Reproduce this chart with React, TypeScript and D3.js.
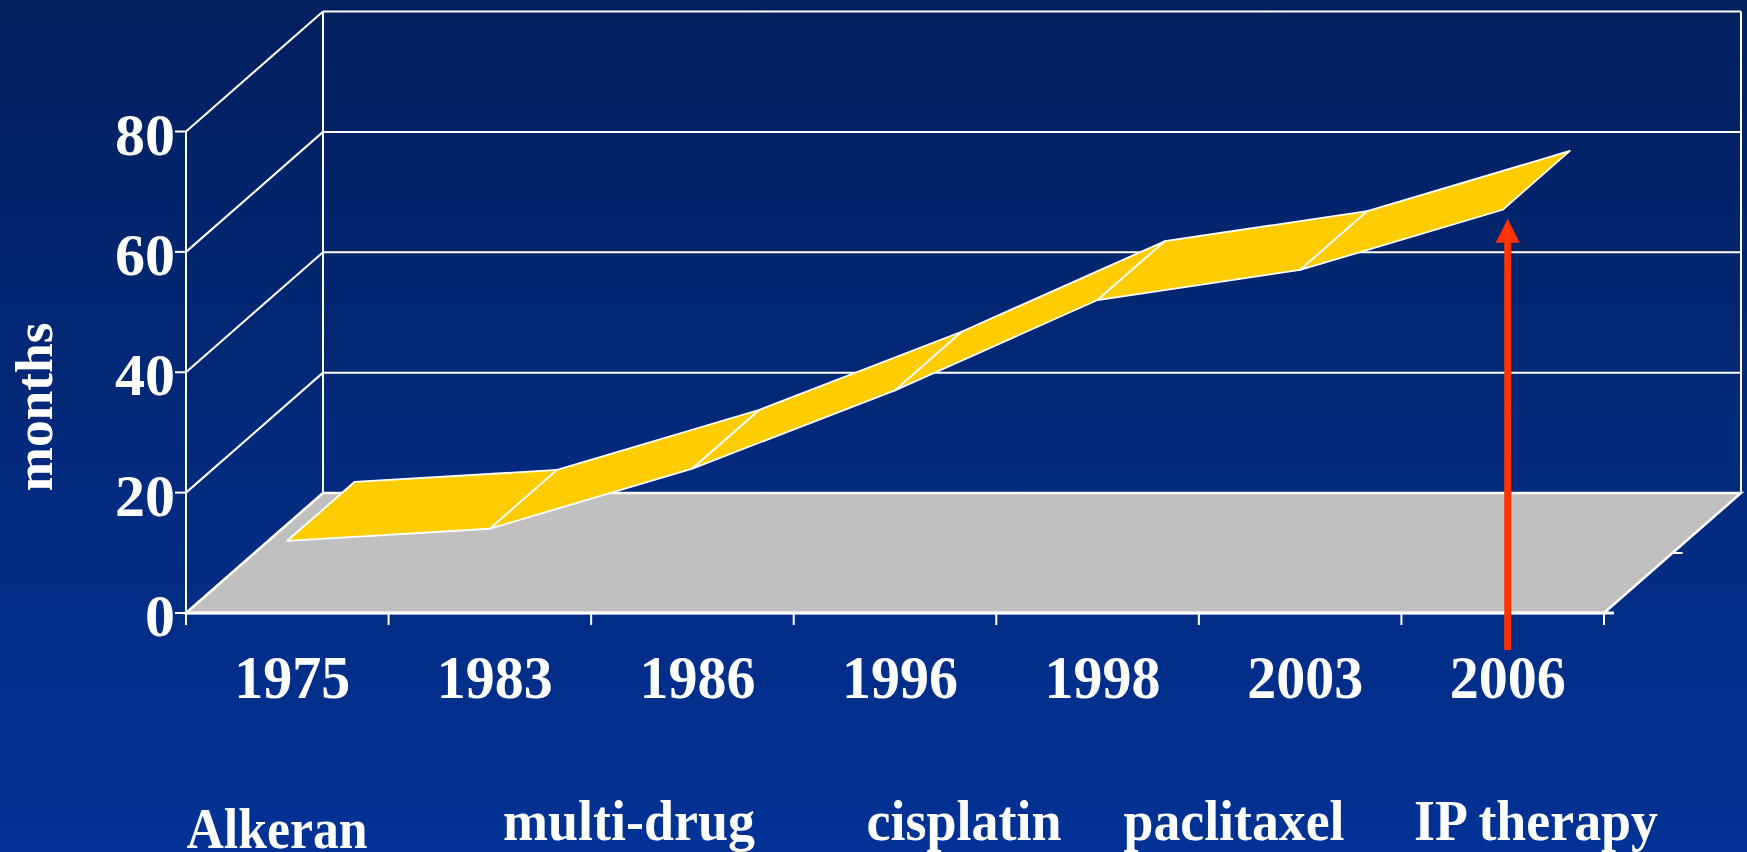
import React from "react";
import * as d3 from "d3";

const years = ["1975", "1983", "1986", "1996", "1998", "2003", "2006"];
const survivalMonths = [12, 14, 24, 37, 52, 57, 67];
const yTicks = [0, 20, 40, 60, 80];
const therapies = ["Alkeran", "multi-drug", "cisplatin", "paclitaxel", "IP therapy"];
const arrowYear = "2006";
const arrowValue = 67;

const W = 1747;
const H = 852;

export default function App() {
  const x = d3.scaleBand<string>().domain(years).range([186, 1604]).paddingInner(0).paddingOuter(0);
  const y = d3.scaleLinear().domain([0, 80]).range([613, 131.5]);
  const DX = 137;
  const DY = -120;
  const rdx = DX * 0.49;
  const rdy = DY * 0.49;
  const x0 = x.range()[0];
  const x1 = x.range()[1];
  const bw = x.bandwidth();
  const cx = (c: string) => (x(c) as number) + bw / 2;

  const floorPts = [
    [x0, y(0)],
    [x1, y(0)],
    [x1 + DX, y(0) + DY],
    [x0 + DX, y(0) + DY],
  ];

  const segs = [];
  for (let i = 0; i < years.length - 1; i++) {
    const fa: [number, number] = [cx(years[i]), y(survivalMonths[i])];
    const fb: [number, number] = [cx(years[i + 1]), y(survivalMonths[i + 1])];
    const pts = [fa, fb, [fb[0] + rdx, fb[1] + rdy], [fa[0] + rdx, fa[1] + rdy]];
    segs.push(pts);
  }

  const line = d3.line();
  const boundaries = d3.range(years.length + 1).map((i) => x0 + i * bw);

  const yearX = years.map((c) => cx(c) + 5);
  const therapyLayout = [
    { cx: 277, w: 181, base: 848 },
    { cx: 629, w: 252, base: 840 },
    { cx: 964, w: 195, base: 840 },
    { cx: 1234, w: 221, base: 840 },
    { cx: 1536, w: 244, base: 840 },
  ];

  const ax = cx(arrowYear) + 5;
  const tipY = y(arrowValue) + 9;
  const baseY = tipY + 24;
  const bottomY = 650;

  const font = "'Liberation Serif', 'Times New Roman', serif";

  return (
    <div style={{ margin: 0, padding: 0 }}>
      <style>{`body{margin:0;overflow:hidden}`}</style>
      <svg width={W} height={H} style={{ display: "block" }}>
        <defs>
          <linearGradient id="bg" x1="0" y1="0" x2="0" y2="1">
            <stop offset="0" stopColor="#03205e" />
            <stop offset="1" stopColor="#023296" />
          </linearGradient>
        </defs>
        <rect x={0} y={0} width={W} height={H} fill="url(#bg)" />

        {/* floor */}
        <path d={line(floorPts as any) + "Z"} fill="#c0c0c0" stroke="white" strokeWidth={2.5} />

        {/* back wall */}
        <line x1={x0 + DX} x2={x0 + DX} y1={y(80) + DY} y2={y(0) + DY} stroke="white" strokeWidth={2} />
        <line x1={x1 + DX} x2={x1 + DX} y1={y(80) + DY} y2={y(0) + DY} stroke="white" strokeWidth={2} />
        {yTicks.map((v) => (
          <g key={"g" + v}>
            <line x1={x0 + DX} x2={x1 + DX} y1={y(v) + DY} y2={y(v) + DY} stroke="white" strokeWidth={2} />
            <line x1={x0} x2={x0 + DX} y1={y(v)} y2={y(v) + DY} stroke="white" strokeWidth={2} />
            <line x1={x0 - 11} x2={x0} y1={y(v)} y2={y(v)} stroke="white" strokeWidth={2} />
          </g>
        ))}
        {/* front-left axis */}
        <line x1={x0} x2={x0} y1={y(80)} y2={y(0) + 12} stroke="white" strokeWidth={2} />
        {/* x axis */}
        <line x1={x0} x2={x1 + 10} y1={y(0)} y2={y(0)} stroke="white" strokeWidth={3} />
        {boundaries.map((bx, i) => (
          <line key={"t" + i} x1={bx} x2={bx} y1={y(0)} y2={y(0) + 12} stroke="white" strokeWidth={2} />
        ))}
        {/* depth axis tick */}
        <line x1={x1 + DX / 2} x2={x1 + DX / 2 + 10} y1={y(0) + DY / 2} y2={y(0) + DY / 2} stroke="white" strokeWidth={2} />

        {/* ribbon */}
        {segs.map((p, i) => (
          <path key={"s" + i} d={line(p as any) + "Z"} fill="#ffcc00" stroke="white" strokeWidth={1.8} strokeLinejoin="round" />
        ))}

        {/* red arrow */}
        <line x1={ax} x2={ax} y1={bottomY} y2={baseY - 1} stroke="#ff3300" strokeWidth={7} />
        <path d={`M${ax},${tipY} L${ax + 12},${baseY} L${ax - 12},${baseY} Z`} fill="#ff3300" />

        {/* y tick labels */}
        {yTicks.map((v) => (
          <text key={"yl" + v} x={175} y={y(v) + 23} textAnchor="end" fill="white" fontFamily={font} fontWeight="bold" fontSize={60}>
            {v}
          </text>
        ))}

        {/* y title */}
        <text
          transform={`translate(${52},${407}) rotate(-90)`}
          textAnchor="middle"
          fill="white"
          fontFamily={font}
          fontWeight="bold"
          fontSize={52}
          textLength={169}
          lengthAdjust="spacingAndGlyphs"
        >
          months
        </text>

        {/* year labels */}
        {years.map((c, i) => (
          <text
            key={"x" + c}
            x={yearX[i]}
            y={698}
            textAnchor="middle"
            fill="white"
            fontFamily={font}
            fontWeight="bold"
            fontSize={62}
            textLength={116}
            lengthAdjust="spacingAndGlyphs"
          >
            {c}
          </text>
        ))}

        {/* therapy labels */}
        {therapies.map((t, i) => (
          <text
            key={"th" + i}
            x={therapyLayout[i].cx}
            y={therapyLayout[i].base}
            textAnchor="middle"
            fill="white"
            fontFamily={font}
            fontWeight="bold"
            fontSize={56}
            textLength={therapyLayout[i].w}
            lengthAdjust="spacingAndGlyphs"
          >
            {t}
          </text>
        ))}
      </svg>
    </div>
  );
}
